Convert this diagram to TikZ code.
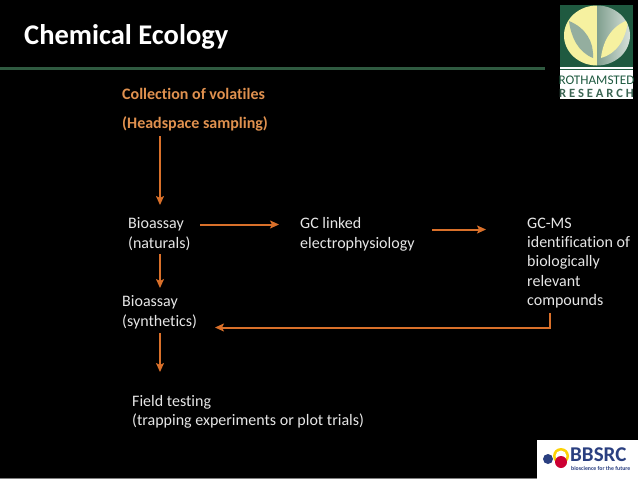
\documentclass[tikz,border=0pt]{standalone}
\usepackage{fontspec}
\setmainfont{Carlito}[Ligatures=NoCommon]
\usetikzlibrary{arrows.meta,calc}
\definecolor{flowc}{HTML}{D9702A}
\definecolor{headc}{HTML}{E0914F}
\definecolor{bodyc}{HTML}{E6E6E6}
\definecolor{rulec}{HTML}{2F5A40}
\definecolor{logog}{HTML}{1F5A40}
\definecolor{logoy}{HTML}{F6F1A0}
\definecolor{logogr}{HTML}{A9BDB0}
\definecolor{navy}{HTML}{2A3F80}
\tikzset{
  bodytext/.style={anchor=north west,inner sep=0pt,align=left,text=bodyc,font=\fontsize{16}{19.4}\selectfont},
  headtext/.style={anchor=north west,inner sep=0pt,align=left,text=headc,font=\bfseries\fontsize{16}{19}\selectfont},
  flow/.style={draw=flowc,line width=2pt,-{Stealth[length=9pt,width=8pt,inset=2pt]}},
}
\begin{document}
\begin{tikzpicture}[x=1pt,y=-1pt]
\useasboundingbox (0,0) rectangle (638,479);
\fill[black] (0,0) rectangle (638,479);
\fill[gray] (0,478) rectangle (537,479);
% title and rule
\node[anchor=west,inner sep=0pt,text=white,font=\bfseries\fontsize{28.5}{32}\selectfont] (title) at (24,37) {Chemical Ecology};
\fill[rulec] (0,67.2) rectangle (545,69.6);
% labels
\node[headtext] (coll) at (122,88.5) {Collection of volatiles};
\node[headtext] (head) at (122,116) {(Headspace sampling)};
\node[bodytext] (nat) at (128,217.5) {Bioassay\\(naturals)};
\node[bodytext] (gc) at (300,217.5) {GC linked\\electrophysiology};
\node[bodytext] (ms) at (527,217.5) {GC-MS\\identification of\\biologically\\relevant\\compounds};
\node[bodytext] (syn) at (122,295.5) {Bioassay\\(synthetics)};
\node[bodytext] (field) at (132,395) {Field testing\\(trapping experiments or plot trials)};
% connectors
\coordinate (a1) at (160,136); \coordinate (a2) at (160,205);
\coordinate (b1) at (160,254); \coordinate (b2) at (160,288);
\coordinate (c1) at (160,333); \coordinate (c2) at (160,372);
\coordinate (d1) at (200,224.5); \coordinate (d2) at (279,224.5);
\coordinate (e1) at (432,229.5); \coordinate (e2) at (486,229.5);
\coordinate (f1) at (550,313); \coordinate (f2) at (550,327.5); \coordinate (f3) at (215,327.5);
\draw[flow] (a1) -- (a2);
\draw[flow] (b1) -- (b2);
\draw[flow] (c1) -- (c2);
\draw[flow] (d1) -- (d2);
\draw[flow] (e1) -- (e2);
\draw[flow] (f1) -- (f2) -- (f3);
% Rothamsted logo
\fill[white] (560,5) rectangle (633,99);
\fill[logog] (560,5) rectangle (633,67);
\fill[logog] (560,68.5) rectangle (633,70);
\begin{scope}
\clip (597,35.5) ellipse [x radius=33,y radius=30];
\fill[logoy] (564,5) rectangle (597,66);
\shade[left color=logogr!70!logog,right color=logogr!40!white] (597,5) rectangle (632,66);
\fill[logogr!85!logog] (569,21) .. controls (571,37) and (578,52) .. (593,58) .. controls (594,42) and (586,28) .. (569,21) -- cycle;
\fill[logoy] (628,20) .. controls (612,26) and (603,40) .. (601,58) .. controls (616,54) and (626,40) .. (628,20) -- cycle;
\end{scope}
\node[inner sep=0pt,text=logog,font=\fontsize{13.2}{13}\selectfont] (roth) at (596.5,80.5) {ROTHAMSTED};
\node[inner sep=0pt,text=logog!70!gray,font=\bfseries\fontsize{12.6}{13}\selectfont] (res) at (596.5,93.5) {R E S E A R C H};
% BBSRC logo
\fill[white] (537,440) rectangle (638,479);
\fill[navy] (548,459) circle (5);
\fill[yellow!70!orange] (561,456) circle (8);
\fill[white] (561,456) circle (5.5);
\fill[purple!80!red] (561,462) circle (6);
\node[anchor=west,inner sep=0pt,text=navy,font=\bfseries\fontsize{21}{21}\selectfont] (bb) at (570,455) {BBSRC};
\node[anchor=west,inner sep=0pt,text=navy,font=\bfseries\fontsize{5.8}{7}\selectfont] (tag) at (571,468.5) {bioscience for the future};
\end{tikzpicture}
\end{document}
